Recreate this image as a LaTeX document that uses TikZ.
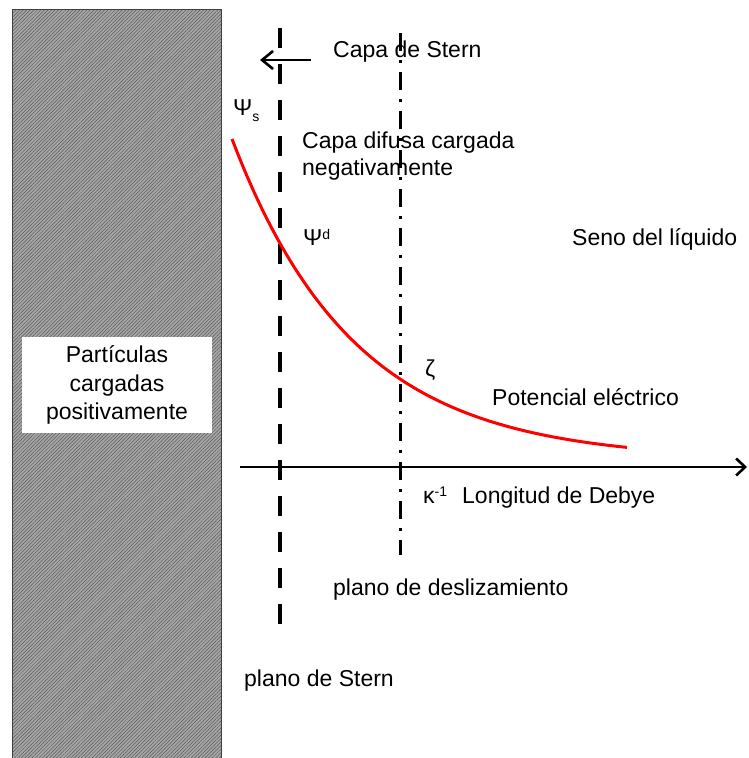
\documentclass[tikz,border=0pt]{standalone}
\usepackage{fontspec}
\setmainfont{Liberation Sans}
\usetikzlibrary{arrows.meta,patterns.meta}
\tikzset{
  plano/.style={line width=4.5pt,dash pattern=on 20pt off 16pt},
  desliz/.style={line width=3pt,dash pattern=on 18pt off 9pt on 3pt off 9pt},
  eje/.style={line width=2.6pt,-{Straight Barb[length=9pt,width=17pt]}},
  lbl/.style={anchor=base west,inner sep=0pt},
}
\begin{document}
\begin{tikzpicture}[x=1pt,y=-1pt,font=\fontsize{23}{28.5}\selectfont]
\useasboundingbox (0,0) rectangle (749,758);
% pared cargada
\fill[gray!70] (12,9) rectangle (221,770);
\fill[pattern={Lines[angle=45,distance=2.5pt,line width=0.5pt]},pattern color=gray!70!black] (12,9) rectangle (221,770);
\draw[line width=1pt,black!75] (12,770) -- (12,9) -- (221,9) -- (221,770);
\node[fill=white,minimum width=190pt,minimum height=96pt,align=center] (particulas) at (117,385) {Partículas\\cargadas\\positivamente};
% textos
\node[lbl] (capaStern) at (333,57) {Capa de Stern};
\node[lbl] (capaDifusa) at (302,148) {Capa difusa cargada};
\node[lbl] (negativa) at (302,175) {negativamente};
\node[lbl] (psiS) at (233,115) {Ψ\raisebox{-6pt}{\fontsize{14}{14}\selectfont s}};
\node[lbl] (psiD) at (303,245) {Ψ\raisebox{6pt}{\fontsize{14}{14}\selectfont d}};
\node[lbl] (zeta) at (425,376) {ζ};
\node[lbl] (potencial) at (492,405) {Potencial eléctrico};
\node[lbl] (seno) at (572,245) {Seno del líquido};
\node[lbl] (kappa) at (423,503) {κ\raisebox{7pt}{\fontsize{14}{14}\selectfont -1}};
\node[lbl] (debye) at (462,503) {Longitud de Debye};
\node[lbl] (planoDesl) at (333,595) {plano de deslizamiento};
\node[lbl] (planoStern) at (244,686) {plano de Stern};
% planos y ejes
\coordinate (sternTop) at (280,28);
\coordinate (sternBot) at (280,640);
\coordinate (deslTop) at (400,33);
\coordinate (deslBot) at (400,555);
\coordinate (ejeIni) at (240,467);
\coordinate (ejeFin) at (747,467);
\coordinate (flechaIni) at (311,60);
\coordinate (flechaFin) at (260,60);
\draw[plano] (sternTop) -- (sternBot);
\draw[desliz] (deslTop) -- (deslBot);
\draw[eje] (ejeIni) -- (ejeFin);
\draw[line width=2.6pt,-{Straight Barb[length=11pt,width=18pt]}] (flechaIni) -- (flechaFin);
% potencial
\draw[red,line width=3pt] plot[domain=232:627,samples=80] (\x,{460-321*exp(-0.0082*(\x-232))});
\end{tikzpicture}
\end{document}
